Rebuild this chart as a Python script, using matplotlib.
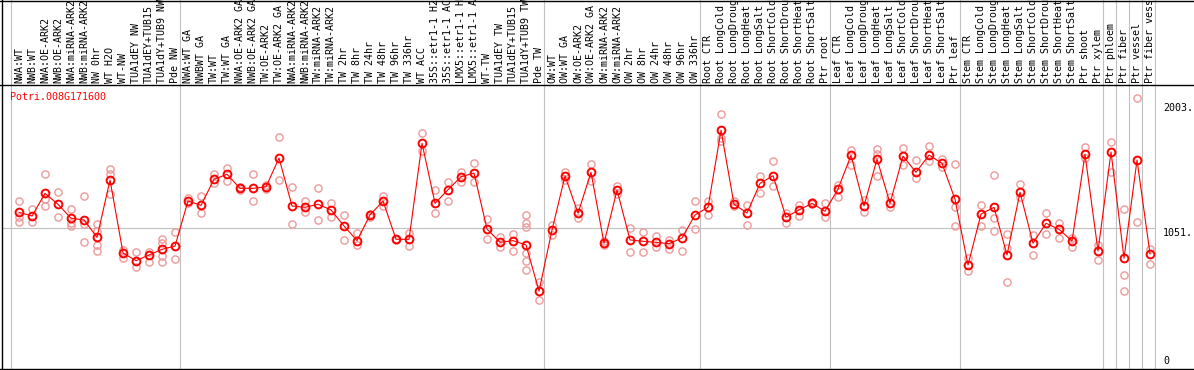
import matplotlib
matplotlib.use("Agg")
import matplotlib.pyplot as plt
from matplotlib.lines import Line2D

GENE = "Potri.008G171600"

LABELS = [
    "NWA:WT", "NWB:WT", "NWA:OE-ARK2", "NWB:OE-ARK2", "NWA:miRNA-ARK2",
    "NWB:miRNA-ARK2", "NW 0hr", "WT H2O", "WT-NW", "TUA1dEY NW",
    "TUA1dEY+TUB15", "TUA1dY+TUB9 NW", "Pde NW",
    "NWA:WT GA", "NWBWT GA", "TW:WT", "TW:WT GA", "NWA:OE-ARK2 GA",
    "NWB:OE-ARK2 GA", "TW:OE-ARK2", "TW:OE-ARK2 GA", "NWA:miRNA-ARK2",
    "NWB:miRNA-ARK2", "TW:miRNA-ARK2", "TW:miRNA-ARK2", "TW 2hr", "TW 8hr",
    "TW 24hr", "TW 48hr", "TW 96hr", "TW 336hr", "WT ACC", "35S::etr1-1 H2",
    "35S::etr1-1 AC", "LMX5::etr1-1 H", "LMX5::etr1-1 A", "WT-TW",
    "TUA1dEY TW", "TUA1dEY+TUB15", "TUA1dY+TUB9 TW", "Pde TW",
    "OW:WT", "OW:WT GA", "OW:OE-ARK2", "OW:OE-ARK2 GA", "OW:miRNA-ARK2",
    "OW:miRNA-ARK2", "OW 2hr", "OW 8hr", "OW 24hr", "OW 48hr", "OW 96hr",
    "OW 336hr",
    "Root CTR", "Root LongCold", "Root LongDroug", "Root LongHeat",
    "Root LongSalt", "Root ShortCold", "Root ShortDrou", "Root ShortHeat",
    "Root ShortSalt", "Ptr root",
    "Leaf CTR", "Leaf LongCold", "Leaf LongDroug", "Leaf LongHeat",
    "Leaf LongSalt", "Leaf ShortCold", "Leaf ShortDrou", "Leaf ShortHeat",
    "Leaf ShortSalt", "Ptr leaf",
    "Stem CTR", "Stem LongCold", "Stem LongDroug", "Stem LongHeat",
    "Stem LongSalt", "Stem ShortCold", "Stem ShortDrou", "Stem ShortHeat",
    "Stem ShortSalt", "Ptr shoot", "Ptr xylem",
    "Ptr phloem", "Ptr fiber", "Ptr vessel", "Ptr fiber vess",
]

MEANS = [
    1170, 1142, 1314, 1231, 1125, 1112, 980, 1415, 861, 803, 846, 889, 914,
    1256, 1223, 1421, 1459, 1352, 1352, 1364, 1582, 1218, 1208, 1231, 1188,
    1066, 955, 1150, 1256, 965, 965, 1694, 1238, 1342, 1440, 1468, 1043, 942,
    955, 922, 571,
    1036, 1446, 1163, 1474, 935, 1339, 960, 950, 942, 932, 975, 1150,
    1208, 1793, 1231, 1165, 1390, 1448, 1134, 1188, 1238, 1178,
    1347, 1603, 1218, 1575, 1238, 1597, 1474, 1605, 1542, 1269,
    770, 1157, 1208, 846, 1322, 935, 1087, 1041, 952, 1610, 876,
    1628, 821, 1567, 854,
]

REPS = [
    [1254, 1137, 1099], [1195, 1094], [1459, 1271, 1216], [1322, 1132],
    [1195, 1087, 1069], [1292, 1081, 942], [1081, 1031, 920, 874],
    [1499, 1459, 1307], [884, 821], [867, 755], [871, 791],
    [968, 939, 841, 791], [1018, 813],
    [1276, 1238], [1294, 1163], [1461, 1390], [1506, 1405], [1339, 1365],
    [1459, 1254], [1380, 1350], [1742, 1413], [1360, 1079], [1254, 1170],
    [1355, 1112], [1238, 1137], [1147, 960], [1011, 922], [1137, 1160],
    [1294, 1218], [962, 968], [1011, 917], [1770, 1633], [1339, 1163],
    [1402, 1254], [1474, 1402], [1542, 1402], [1117, 968], [980, 909],
    [1005, 874], [1147, 1091, 1061, 859, 803, 730], [641, 502],
    [1074, 998], [1478, 1415], [1201, 1129], [1539, 1410], [950, 920],
    [1372, 1309], [1053, 867], [1018, 867], [993, 907], [958, 894],
    [1036, 874], [1256, 1041],
    [1256, 1152], [1916, 1732, 1710], [1256, 1220], [1223, 1071],
    [1446, 1314], [1560, 1372], [1165, 1087], [1226, 1142], [1245, 1230],
    [1238, 1137],
    [1380, 1289], [1643, 1527], [1263, 1170], [1653, 1615, 1446],
    [1289, 1208], [1660, 1529], [1567, 1433], [1673, 1560], [1572, 1516],
    [1534, 1208, 1066],
    [821, 725], [1223, 1066], [1451, 1129, 1031], [1003, 900, 639],
    [1383, 1290], [998, 846], [1163, 1003], [1091, 973], [975, 907],
    [1664, 1580], [922, 806],
    [1706, 1478], [1195, 692, 573], [2035, 1094], [889, 778],
]

# first index of each sample group (gray separators)
GROUP_STARTS = [0, 13, 41, 53, 63, 73, 84, 85, 86, 87, 88]

YTICKS = [0, 1051, 2003]
YTICK_LABELS = ["0", "1051.", "2003."]

W, H = 1194, 370
FONT = "DejaVu Sans Mono"
GRAY = "#c0c0c0"
RED = "#ff0000"
PINK = "#ec9a9a"


def fx(px):
    return px / W


def fy(py):
    return 1 - py / H


fig = plt.figure(figsize=(W / 100, H / 100), dpi=100)
fig.patch.set_facecolor("white")

# main plot area: x 2..1156 px, y 85..369 px
left, right, top, bottom = 2, 1156, 85, 369
ax = fig.add_axes([fx(left), fy(bottom), fx(right - left), (bottom - top) / H])
lab = fig.add_axes([fx(left), fy(top), fx(right - left), top / H])

xlim = (-1.31, 87.46)
ylim = (-20, 2137)
for a in (ax, lab):
    a.set_xlim(*xlim)
    for s in a.spines.values():
        s.set_visible(False)
    a.set_xticks([])
    a.set_yticks([])
    a.patch.set_alpha(0)
ax.set_ylim(*ylim)
lab.set_ylim(0, 1)

# group separators through both areas
for g in GROUP_STARTS:
    for a in (ax, lab):
        a.axvline(g - 0.6, color=GRAY, lw=0.8, zorder=0)

ax.axhline(YTICKS[1], color=GRAY, lw=0.8, zorder=0)

xs = list(range(len(MEANS)))
for i, reps in enumerate(REPS):
    ax.plot([i] * len(reps), reps, linestyle="none", marker="o",
            markersize=5.2, markerfacecolor="none", markeredgecolor=PINK,
            markeredgewidth=1.0, zorder=2, clip_on=False)

ax.plot(xs, MEANS, color=RED, lw=0.8, marker="o", markersize=5.6,
        markerfacecolor="none", markeredgecolor=RED, markeredgewidth=1.4,
        zorder=3)

# sample labels
for i, name in enumerate(LABELS):
    lab.text(i, 2 / top, name, rotation=90, ha="center", va="bottom",
             fontsize=7.2, family=FONT, color="black")

ax.text((10 - left) / (right - left), (bottom - 97) / (bottom - top), GENE,
        transform=ax.transAxes, ha="left", va="center", fontsize=7.2,
        family=FONT, color=RED)

# value labels on the right side
tx = (1163 - left) / (right - left)
for v, t in zip(YTICKS, YTICK_LABELS):
    va = "bottom" if v == 0 else "top"
    ax.text(tx, v, t, transform=ax.get_yaxis_transform(), ha="left", va=va,
            fontsize=7.2, family=FONT, color="black", clip_on=False)

# black frame lines
for line in [
    ((0, 1), (fy(0.5), fy(0.5))),
    ((0, 1), (fy(85), fy(85))),
    ((0, 1), (fy(369), fy(369))),
    ((fx(2), fx(2)), (0, 1)),
]:
    fig.add_artist(Line2D(line[0], line[1], color="black", lw=1.0))

fig.savefig("out.png", dpi=100, facecolor="white")
